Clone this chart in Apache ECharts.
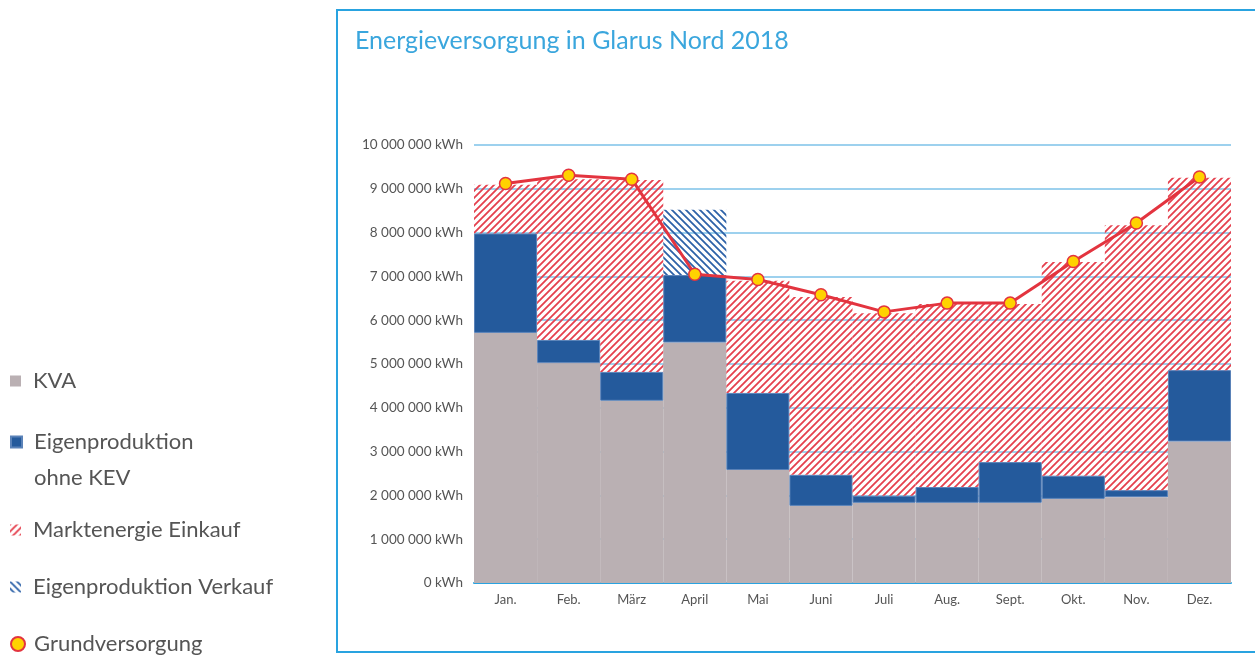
<!DOCTYPE html>
<html>
<head>
<meta charset="utf-8">
<script src="https://cdn.jsdelivr.net/npm/echarts@6/dist/echarts.min.js"></script>
<style>
  html, body { margin: 0; padding: 0; background: #fff; }
  #chart { width: 1255px; height: 655px; }
</style>
</head>
<body>
<div id="chart"></div>
<script>
var months = ['Jan.', 'Feb.', 'März', 'April', 'Mai', 'Juni', 'Juli', 'Aug.', 'Sept.', 'Okt.', 'Nov.', 'Dez.'];

// kWh
var kva = [5710000, 5020000, 4160000, 5490000, 2580000, 1760000, 1830000, 1830000, 1830000, 1920000, 1960000, 3230000];
var eigenproduktion = [2270000, 530000, 660000, 1540000, 1760000, 710000, 160000, 360000, 930000, 530000, 160000, 1630000];
var marktenergie = [1110000, 3670000, 4380000, 0, 2560000, 4060000, 4170000, 4180000, 3610000, 4880000, 6050000, 4390000];
var verkauf = [0, 0, 0, 1490000, 0, 0, 0, 0, 0, 0, 0, 0];
var grundversorgung = [9120000, 9310000, 9220000, 7050000, 6930000, 6580000, 6190000, 6390000, 6390000, 7340000, 8220000, 9270000];

var yTicks = [0, 1000000, 2000000, 3000000, 4000000, 5000000, 6000000, 7000000, 8000000, 9000000, 10000000];

// schraffur als canvas-muster
function hatch (color, dir) {
  var s = 7
  var c = document.createElement('canvas')
  c.width = s
  c.height = s
  var ctx = c.getContext('2d')
  ctx.strokeStyle = color
  ctx.lineWidth = 1.8
  ctx.beginPath()
  if (dir === '/') {
    ctx.moveTo(-1, s + 1); ctx.lineTo(s + 1, -1)
    ctx.moveTo(-1, 1); ctx.lineTo(1, -1)
    ctx.moveTo(s - 1, s + 1); ctx.lineTo(s + 1, s - 1)
  } else {
    ctx.moveTo(-1, -1); ctx.lineTo(s + 1, s + 1)
    ctx.moveTo(-1, s - 1); ctx.lineTo(1, s + 1)
    ctx.moveTo(s - 1, -1); ctx.lineTo(s + 1, 1)
  }
  ctx.stroke()
  return { image: c, repeat: 'repeat' }
}

function fmt (v) {
  return String(v).replace(/\B(?=(\d{3})+(?!\d))/g, ' ') + ' kWh'
}

var font = 'Lato, "Open Sans", sans-serif'
var chart = echarts.init(document.getElementById('chart'))

// quadrat / kreis mit leerraum rechts (abstand zum text)
var squareIcon = 'path://M0,0H11V11H0Z M18,0L18.01,0Z'
var circleIcon = 'path://M0,7A7,7 0 1 1 14,7A7,7 0 1 1 0,7Z M18,0L18.01,0Z'

// ein legenden-block pro eintrag, damit die abstände stimmen
function legendItem (item, top, extra) {
  return Object.assign({
    orient: 'vertical',
    left: 5,
    top: top,
    itemWidth: 18,
    itemHeight: 11,
    textStyle: { color: '#555', fontSize: 22, fontFamily: font, lineHeight: 24 },
    data: [item]
  }, extra || {})
}

var option = {
  animation: false,
  title: {
    text: 'Energieversorgung in Glarus Nord 2018',
    left: 355,
    top: 28,
    padding: 0,
    textStyle: { color: '#3aa6dd', fontSize: 25, fontWeight: 'normal', fontFamily: font }
  },
  legend: [
    legendItem({ name: 'KVA', icon: squareIcon }, 364),
    // quadrat oben, unsichtbarer punkt unten -> symbol steht auf der ersten zeile
    legendItem({ name: 'Eigenproduktion\nohne KEV', icon: 'path://M0,0H11V11H0Z M18,47L18.01,47Z' }, 419, {
      itemHeight: 47,
      textStyle: { color: '#555', fontSize: 22, fontFamily: font, lineHeight: 36 }
    }),
    legendItem({ name: 'Marktenergie Einkauf', icon: squareIcon }, 513),
    legendItem({ name: 'Eigenproduktion Verkauf', icon: squareIcon }, 570),
    legendItem({ name: 'Grundversorgung', icon: circleIcon, itemStyle: { color: '#ffd200', borderColor: '#e3343f', borderWidth: 2 } }, 627, { itemHeight: 14 })
  ],
  graphic: [{
    type: 'rect',
    shape: { x: 337, y: 10, width: 930, height: 642 },
    style: { fill: 'none', stroke: '#29a3e0', lineWidth: 2 },
    z: -10
  }],
  grid: { left: 474, right: 24, top: 145, bottom: 72 },
  xAxis: {
    type: 'category',
    data: months,
    axisLine: { lineStyle: { color: '#29a3e0', width: 2 } },
    axisTick: { show: false },
    axisLabel: { color: '#555', fontSize: 13, fontFamily: font, margin: 10 }
  },
  yAxis: {
    type: 'value',
    min: 0,
    max: 10000000,
    interval: 1000000,
    axisLine: { show: false },
    axisTick: { show: false },
    splitLine: { lineStyle: { color: '#7cc2e8', width: 1.5 } },
    axisLabel: {
      color: '#555',
      fontSize: 13.5,
      fontFamily: font,
      margin: 11,
      formatter: function (v) { return yTicks.indexOf(v) >= 0 ? fmt(v) : '' }
    }
  },
  series: [
    {
      name: 'KVA',
      type: 'bar',
      stack: 'e',
      barCategoryGap: 0,
      data: kva,
      itemStyle: { color: '#bab0b3' }
    },
    {
      name: 'Eigenproduktion\nohne KEV',
      type: 'bar',
      stack: 'e',
      data: eigenproduktion,
      itemStyle: { color: '#245a9c', borderColor: '#5a82b8', borderWidth: 1 }
    },
    {
      name: 'Marktenergie Einkauf',
      type: 'bar',
      stack: 'e',
      data: marktenergie,
      itemStyle: { color: hatch('#e5404e', '/') }
    },
    {
      name: 'Eigenproduktion Verkauf',
      type: 'bar',
      stack: 'e',
      data: verkauf,
      itemStyle: { color: hatch('#2d62a8', '\\') }
    },
    {
      name: 'Grundversorgung',
      type: 'line',
      data: grundversorgung,
      z: 10,
      symbol: 'circle',
      symbolSize: 12,
      lineStyle: { color: '#e3343f', width: 3 },
      itemStyle: { color: '#ffd200', borderColor: '#e3343f', borderWidth: 1.5 }
    }
  ]
}

window.addEventListener('resize', () => {
  chart.resize()
})
chart.setOption(option)
</script>
</body>
</html>
